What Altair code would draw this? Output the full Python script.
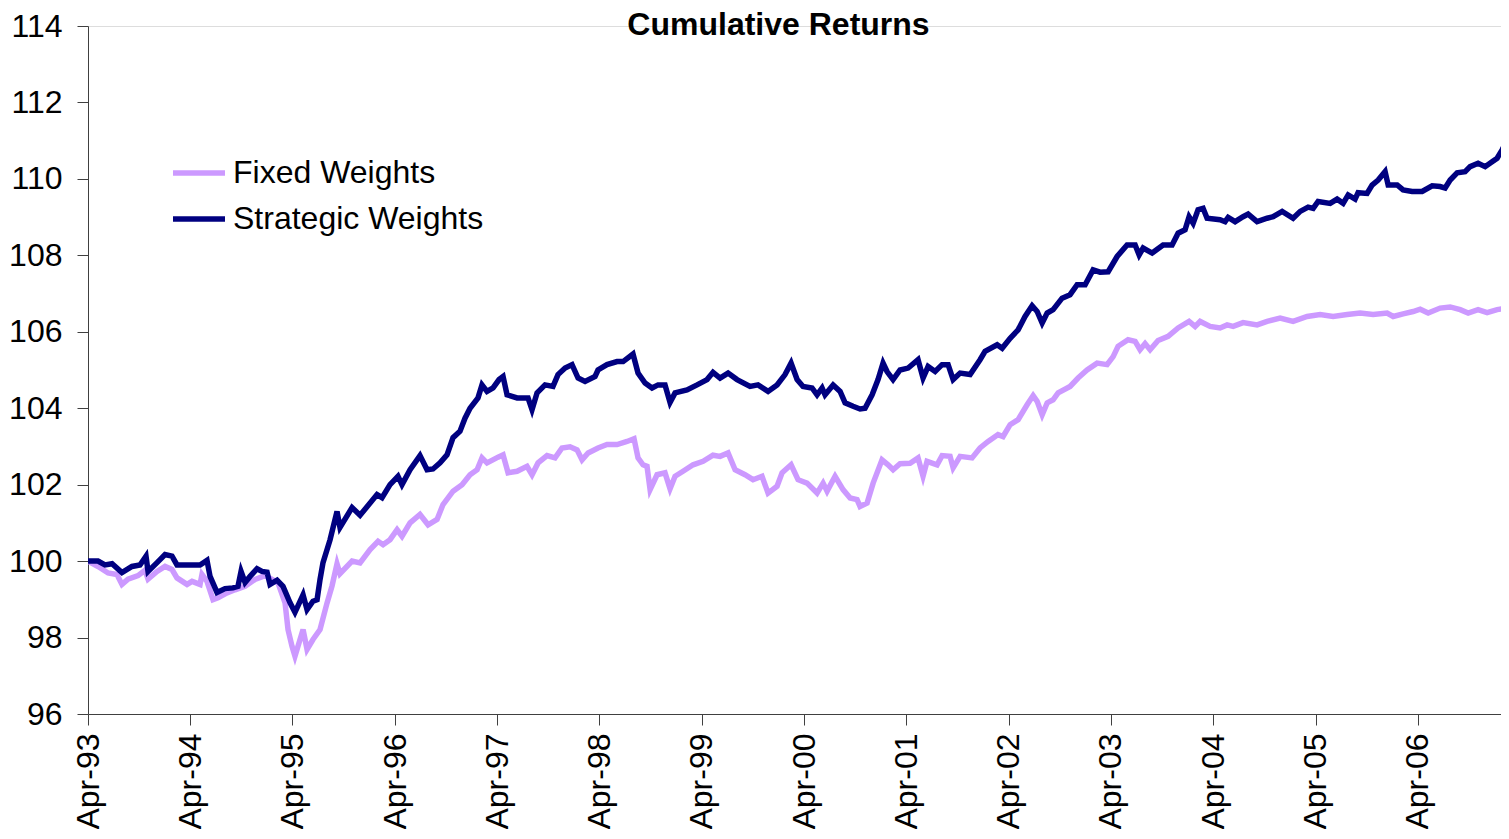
import altair as alt
import pandas as pd

# Years elapsed since April 1993, and cumulative index values
strategic_t = [0, 0.098, 0.166, 0.235, 0.332, 0.430, 0.508, 0.567, 0.587, 0.675, 0.753, 0.821, 0.870, 0.948,
               1.095, 1.163, 1.193, 1.261, 1.339, 1.417, 1.466, 1.496, 1.535, 1.584, 1.652, 1.701, 1.750, 1.779,
               1.848, 1.906, 1.975, 2.023, 2.102, 2.141, 2.199, 2.239, 2.268, 2.297, 2.366, 2.434, 2.463, 2.581,
               2.659, 2.825, 2.874, 2.952, 3.030, 3.069, 3.148, 3.245, 3.314, 3.372, 3.441, 3.509, 3.568, 3.636,
               3.685, 3.734, 3.812, 3.851, 3.900, 3.959, 4.018, 4.057, 4.096, 4.194, 4.301, 4.340, 4.389, 4.467,
               4.545, 4.594, 4.663, 4.731, 4.790, 4.858, 4.956, 4.985, 5.073, 5.171, 5.230, 5.327, 5.376, 5.445,
               5.513, 5.572, 5.640, 5.689, 5.738, 5.855, 5.953, 6.051, 6.109, 6.178, 6.256, 6.344, 6.471, 6.549,
               6.647, 6.735, 6.813, 6.872, 6.931, 6.989, 7.077, 7.126, 7.175, 7.204, 7.283, 7.351, 7.400, 7.478,
               7.546, 7.595, 7.664, 7.722, 7.771, 7.810, 7.869, 7.937, 8.016, 8.113, 8.162, 8.211, 8.280, 8.348,
               8.407, 8.456, 8.524, 8.622, 8.719, 8.768, 8.886, 8.935, 9.013, 9.091, 9.159, 9.228, 9.277, 9.326,
               9.375, 9.433, 9.521, 9.599, 9.668, 9.746, 9.824, 9.892, 9.971, 10.059, 10.156, 10.235, 10.274,
               10.313, 10.401, 10.508, 10.596, 10.655, 10.723, 10.762, 10.802, 10.850, 10.899, 10.938, 11.065,
               11.114, 11.144, 11.212, 11.290, 11.339, 11.427, 11.525, 11.584, 11.672, 11.779, 11.848, 11.926,
               11.975, 12.023, 12.141, 12.209, 12.268, 12.317, 12.385, 12.414, 12.502, 12.551, 12.610, 12.678,
               12.708, 12.796, 12.854, 12.942, 13.040, 13.138, 13.216, 13.265, 13.314, 13.382, 13.460, 13.509,
               13.587, 13.656, 13.724, 13.773, 13.822, 13.881]
strategic_v = [100.0, 100.0, 99.9, 99.93, 99.7, 99.86, 99.9, 100.13, 99.73, 99.96, 100.17, 100.13, 99.9, 99.9,
               99.9, 100.02, 99.6, 99.18, 99.28, 99.3, 99.34, 99.73, 99.44, 99.6, 99.8, 99.73, 99.71, 99.39,
               99.5, 99.34, 98.91, 98.66, 99.12, 98.73, 98.95, 98.99, 99.52, 99.96, 100.56, 101.3, 100.88, 101.4,
               101.2, 101.74, 101.66, 102.0, 102.22, 102.0, 102.39, 102.76, 102.39, 102.41, 102.57, 102.78, 103.23, 103.4,
               103.74, 104.0, 104.27, 104.61, 104.44, 104.53, 104.75, 104.83, 104.35, 104.27, 104.27, 103.96, 104.4, 104.61,
               104.57, 104.88, 105.05, 105.14, 104.79, 104.7, 104.83, 105.0, 105.14, 105.22, 105.22, 105.42, 104.92, 104.66,
               104.53, 104.61, 104.61, 104.15, 104.4, 104.48, 104.61, 104.75, 104.94, 104.79, 104.92, 104.75, 104.57, 104.61,
               104.44, 104.61, 104.88, 105.18, 104.75, 104.57, 104.53, 104.35, 104.53, 104.35, 104.61, 104.44, 104.14, 104.05,
               103.98, 104.0, 104.35, 104.75, 105.18, 104.96, 104.75, 105.0, 105.05, 105.27, 104.79, 105.09, 104.96, 105.14,
               105.14, 104.75, 104.92, 104.88, 105.27, 105.49, 105.66, 105.57, 105.83, 106.05, 106.4, 106.68, 106.53, 106.23,
               106.49, 106.58, 106.88, 106.97, 107.23, 107.23, 107.62, 107.56, 107.57, 107.97, 108.27, 108.27, 108.01,
               108.19, 108.06, 108.27, 108.27, 108.58, 108.67, 109.01, 108.84, 109.19, 109.23, 108.97, 108.93,
               108.88, 108.99, 108.88, 109.01, 109.08, 108.88, 108.97, 109.01, 109.15, 108.97, 109.15, 109.26,
               109.23, 109.41, 109.36, 109.47, 109.36, 109.58, 109.47, 109.64, 109.62, 109.84, 109.97, 110.19,
               109.84, 109.84, 109.71, 109.67, 109.67, 109.82, 109.8, 109.76, 109.97, 110.16, 110.19, 110.32,
               110.41, 110.32, 110.45, 110.54, 110.76, 111.06]

fixed_t = [0, 0.098, 0.196, 0.283, 0.332, 0.391, 0.489, 0.557, 0.587, 0.675, 0.753, 0.821, 0.870, 0.968,
           1.017, 1.095, 1.114, 1.163, 1.222, 1.271, 1.359, 1.437, 1.535, 1.632, 1.730, 1.799, 1.857, 1.926,
           1.955, 1.994, 2.023, 2.102, 2.141, 2.199, 2.268, 2.336, 2.385, 2.434, 2.463, 2.581, 2.659, 2.757,
           2.835, 2.884, 2.952, 3.021, 3.069, 3.148, 3.245, 3.324, 3.412, 3.470, 3.568, 3.656, 3.734, 3.803,
           3.851, 3.900, 4.008, 4.057, 4.106, 4.194, 4.291, 4.340, 4.399, 4.487, 4.565, 4.633, 4.712, 4.780,
           4.829, 4.888, 4.985, 5.073, 5.171, 5.269, 5.337, 5.376, 5.425, 5.464, 5.494, 5.562, 5.640, 5.689,
           5.738, 5.816, 5.914, 6.012, 6.109, 6.178, 6.256, 6.325, 6.422, 6.500, 6.588, 6.647, 6.735, 6.784,
           6.872, 6.940, 7.028, 7.126, 7.185, 7.224, 7.302, 7.380, 7.449, 7.517, 7.546, 7.615, 7.674, 7.761,
           7.820, 7.869, 7.937, 8.035, 8.113, 8.162, 8.201, 8.299, 8.348, 8.426, 8.456, 8.524, 8.641, 8.719,
           8.798, 8.895, 8.944, 9.013, 9.091, 9.179, 9.238, 9.277, 9.326, 9.375, 9.433, 9.482, 9.599, 9.677,
           9.765, 9.863, 9.961, 10.020, 10.068, 10.166, 10.235, 10.283, 10.332, 10.381, 10.459, 10.557,
           10.655, 10.762, 10.821, 10.870, 10.968, 11.065, 11.134, 11.193, 11.290, 11.427, 11.525, 11.652,
           11.779, 11.916, 12.043, 12.170, 12.307, 12.434, 12.561, 12.698, 12.757, 12.854, 12.952, 13.021,
           13.099, 13.216, 13.314, 13.412, 13.490, 13.587, 13.675, 13.773, 13.881]
fixed_v = [100.0, 99.86, 99.69, 99.65, 99.39, 99.53, 99.62, 99.76, 99.53, 99.73, 99.86, 99.78, 99.56, 99.39,
           99.47, 99.39, 99.65, 99.47, 98.99, 99.04, 99.17, 99.25, 99.34, 99.52, 99.62, 99.52, 99.43, 98.91,
           98.21, 97.77, 97.51, 98.21, 97.69, 97.95, 98.21, 98.9, 99.35, 99.93, 99.67, 100.0, 99.95, 100.3,
           100.52, 100.43, 100.56, 100.82, 100.65, 101.0, 101.22, 100.95, 101.09, 101.48, 101.83, 102.0, 102.26, 102.39,
           102.7, 102.57, 102.72, 102.78, 102.31, 102.35, 102.48, 102.26, 102.57, 102.76, 102.7, 102.96, 102.99, 102.91,
           102.65, 102.83, 102.96, 103.05, 103.05, 103.13, 103.2, 102.7, 102.52, 102.48, 101.87, 102.26, 102.31, 101.89,
           102.22, 102.35, 102.52, 102.61, 102.77, 102.74, 102.83, 102.39, 102.26, 102.13, 102.22, 101.78, 101.96, 102.31,
           102.52, 102.13, 102.04, 101.78, 102.04, 101.83, 102.22, 101.87, 101.65, 101.61, 101.43, 101.52, 102.04, 102.65,
           102.52, 102.39, 102.55, 102.56, 102.7, 102.22, 102.61, 102.52, 102.76, 102.74, 102.44, 102.74, 102.7, 102.96,
           103.13, 103.31, 103.26, 103.57, 103.7, 104.09, 104.33, 104.18, 103.83, 104.14, 104.22, 104.4, 104.57, 104.79,
           105.0, 105.18, 105.14, 105.35, 105.62, 105.79, 105.75, 105.53, 105.69, 105.53, 105.77, 105.88,
           106.1, 106.27, 106.14, 106.27, 106.14, 106.1, 106.18, 106.14, 106.24, 106.18, 106.27, 106.36,
           106.27, 106.4, 106.45, 106.4, 106.45, 106.49, 106.45, 106.49, 106.4, 106.47, 106.53, 106.59,
           106.49, 106.62, 106.65, 106.58, 106.49, 106.58, 106.5, 106.58, 106.62]

series_names = ["Fixed Weights", "Strategic Weights"]
series_colors = ["#CC99FF", "#000080"]
tick_years = list(range(1993, 2007))
y_ticks = [96, 98, 100, 102, 104, 106, 108, 110, 112, 114]
x_end_years = 13.89

start = pd.Timestamp("1993-04-01")


def to_dates(ts):
    return [start + pd.Timedelta(days=t * 365.25) for t in ts]


df = pd.concat([
    pd.DataFrame({"date": to_dates(fixed_t), "value": fixed_v, "series": series_names[0], "order": 0}),
    pd.DataFrame({"date": to_dates(strategic_t), "value": strategic_v, "series": series_names[1], "order": 1}),
])

end = start + pd.Timedelta(days=x_end_years * 365.25)
FONT = "Arial, Liberation Sans, sans-serif"

chart = alt.Chart(df).mark_line(strokeWidth=5.5, clip=True).encode(
    x=alt.X("date:T",
            scale=alt.Scale(domain=[alt.DateTime(year=1993, month=4, date=1),
                                    alt.DateTime(year=end.year, month=end.month, date=end.day)]),
            axis=alt.Axis(values=[alt.DateTime(year=y, month=4, date=1) for y in tick_years],
                          format="%b-%y", labelAngle=-90, title=None, grid=False,
                          tickSize=11, labelPadding=8, labelFontSize=32, labelFont=FONT,
                          labelColor="black", tickColor="#404040", domainColor="#404040",
                          labelOverlap=False, labelFlush=False)),
    y=alt.Y("value:Q",
            scale=alt.Scale(domain=[96, 114], nice=False, zero=False),
            axis=alt.Axis(values=y_ticks, title=None, grid=False, tickSize=11, labelPadding=15,
                          labelFontSize=32, labelFont=FONT, labelColor="black",
                          tickColor="#404040", domainColor="#404040")),
    color=alt.Color("series:N",
                    scale=alt.Scale(domain=series_names, range=series_colors),
                    legend=alt.Legend(title=None, orient="none", legendX=82, legendY=131,
                                      symbolType="stroke", symbolSize=2704, symbolStrokeWidth=5.5,
                                      clipHeight=32, rowPadding=14, labelOffset=5, padding=0,
                                      labelLimit=0, labelFontSize=32, labelFont=FONT,
                                      labelColor="black")),
    order=alt.Order("order:Q"),
    detail="series:N",
).properties(
    width=1421,
    height=688,
    title=alt.TitleParams("Cumulative Returns", fontSize=32, font=FONT, fontWeight="bold",
                          color="black", anchor="middle", dx=-20, offset=-57,
                          baseline="alphabetic"),
    padding={"left": 80, "top": 18, "right": -8, "bottom": 115},
    autosize=alt.AutoSizeParams(type="none"),
).configure_view(stroke=None).configure(background="white")

chart.save("out.html", embed_options={"renderer": "svg", "actions": False})
